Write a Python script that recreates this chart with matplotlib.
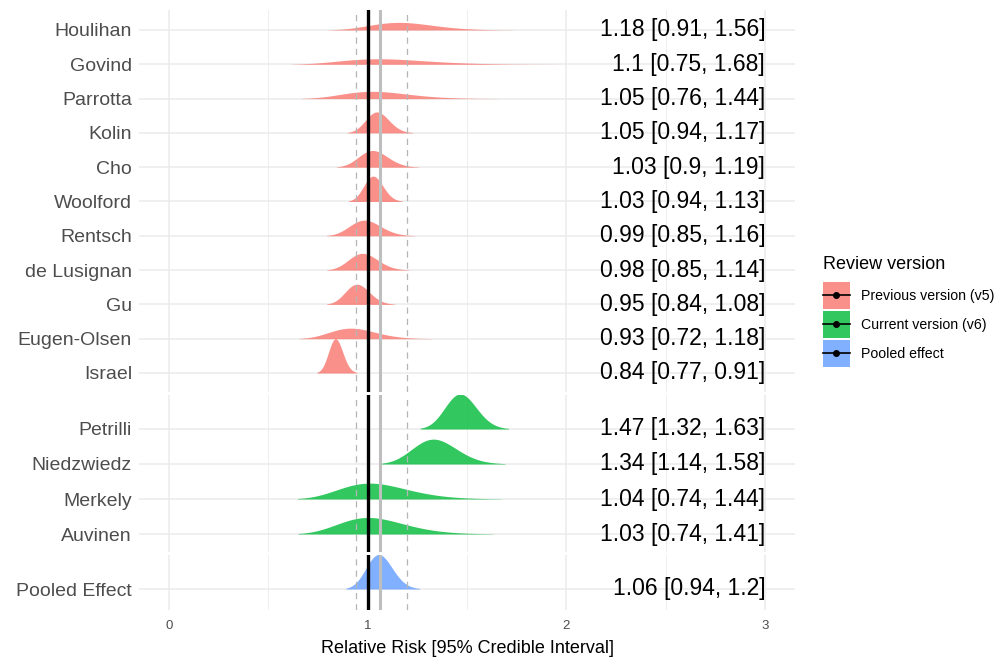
import numpy as np
import matplotlib.pyplot as plt
from matplotlib.patches import Patch, Rectangle
from matplotlib.lines import Line2D
from matplotlib.legend_handler import HandlerTuple, HandlerPatch

plt.rcParams['font.family'] = ['Liberation Sans', 'DejaVu Sans']

# previous version (v5) studies
v5_names = ["Houlihan", "Govind", "Parrotta", "Kolin", "Cho", "Woolford",
            "Rentsch", "de Lusignan", "Gu", "Eugen-Olsen", "Israel"]
v5_est = [1.18, 1.1, 1.05, 1.05, 1.03, 1.03, 0.99, 0.98, 0.95, 0.93, 0.84]
v5_lo = [0.91, 0.75, 0.76, 0.94, 0.9, 0.94, 0.85, 0.85, 0.84, 0.72, 0.77]
v5_hi = [1.56, 1.68, 1.44, 1.17, 1.19, 1.13, 1.16, 1.14, 1.08, 1.18, 0.91]

# current version (v6) studies
v6_names = ["Petrilli", "Niedzwiedz", "Merkely", "Auvinen"]
v6_est = [1.47, 1.34, 1.04, 1.03]
v6_lo = [1.32, 1.14, 0.74, 0.74]
v6_hi = [1.63, 1.58, 1.44, 1.41]

# pooled
pooled_names = ["Pooled Effect"]
pooled_est = [1.06]
pooled_lo = [0.94]
pooled_hi = [1.2]

legend_labels = ["Previous version (v5)", "Current version (v6)", "Pooled effect"]
colors = ["#F8766D", "#00BA38", "#619CFF"]

W, H = 997, 657
fig = plt.figure(figsize=(W / 100, H / 100), dpi=100)

# panel pixel extents (top, bottom) and y limits in row units
panels = [
    (v5_names, v5_est, v5_lo, v5_hi, colors[0], 10, 392, (-0.554, 10.583)),
    (v6_names, v6_est, v6_lo, v6_hi, colors[1], 395, 552, (-0.514, 3.971)),
    (pooled_names, pooled_est, pooled_lo, pooled_hi, colors[2], 555, 610, (-0.609, 0.986)),
]

left_px, right_px = 139, 795
for k, (names, est, lo, hi, col, top, bot, ylim) in enumerate(panels):
    ax = fig.add_axes([left_px / W, 1 - bot / H, (right_px - left_px) / W, (bot - top) / H])
    n = len(names)
    ys = [n - 1 - i for i in range(n)]

    curves = []
    for e, l, h in zip(est, lo, hi):
        mu = np.log(e)
        sd = (np.log(h) - np.log(l)) / (2 * 1.96)
        x = np.exp(np.linspace(mu - 2.8 * sd, mu + 2.8 * sd, 400))
        d = np.exp(-(np.log(x) - mu) ** 2 / (2 * sd ** 2)) / (x * sd * np.sqrt(2 * np.pi))
        curves.append((x, d))
    peak = max(d.max() for _, d in curves)

    for i, ((x, d), y0) in enumerate(zip(curves, ys)):
        ax.fill_between(x, y0, y0 + d / peak, color=col, alpha=0.8, lw=0, zorder=2 + i)
        label = f"{est[i]} [{lo[i]}, {hi[i]}]"
        ax.text(3, y0, label, ha='right', va='center', fontsize=16.5, color='black', zorder=30)

    # reference lines
    ax.axvline(pooled_lo[0], color='#B5B5B5', lw=0.9, dashes=(5, 4), zorder=18)
    ax.axvline(pooled_hi[0], color='#B5B5B5', lw=0.9, dashes=(5, 4), zorder=18)
    ax.axvline(pooled_est[0], color='#BEBEBE', lw=2.2, zorder=19)
    ax.axvline(1, color='black', lw=2.4, zorder=20)

    ax.set_xlim(-0.15, 3.15)
    ax.set_ylim(*ylim)
    ax.set_xticks([0, 1, 2, 3])
    ax.set_xticks([0.5, 1.5, 2.5], minor=True)
    ax.set_yticks(ys)
    ax.set_yticklabels(names, fontsize=14, color='#4D4D4D')
    ax.grid(which='major', color='#EBEBEB', lw=1.1, zorder=0)
    ax.grid(which='minor', axis='x', color='#EBEBEB', lw=0.6, zorder=0)
    ax.set_axisbelow(True)
    for s in ax.spines.values():
        s.set_visible(False)
    ax.tick_params(which='both', length=0)
    ax.tick_params(axis='y', pad=5)
    if k < len(panels) - 1:
        ax.set_xticklabels([])
    else:
        ax.tick_params(axis='x', labelsize=9.5, labelcolor='#4D4D4D', pad=7)
        ax.set_xlabel("Relative Risk [95% Credible Interval]", fontsize=13, labelpad=6)


def key_rect(legend, orig_handle, xdescent, ydescent, width, height, fontsize):
    # square-ish key centred on the line
    kh = 19.4
    return Rectangle((-xdescent, -ydescent + height / 2 - kh / 2), width, kh)


handles = [(Patch(facecolor=c, alpha=0.8, lw=0),
            Line2D([], [], color='black', marker='o', ms=4, lw=1.2)) for c in colors]
leg = fig.legend(handles, legend_labels, title="Review version", loc='upper left',
                 bbox_to_anchor=(823 / W, 1 - 256 / H), frameon=False, fontsize=10.2,
                 title_fontsize=13, handlelength=1.9, handleheight=0.7, handletextpad=0.75,
                 labelspacing=1.07, borderpad=0, borderaxespad=0, alignment='left',
                 handler_map={tuple: HandlerTuple(ndivide=1),
                              Patch: HandlerPatch(patch_func=key_rect)})
# more room between the title and the keys
leg._legend_box.sep = 11.6

fig.savefig("out.png", dpi=100)
